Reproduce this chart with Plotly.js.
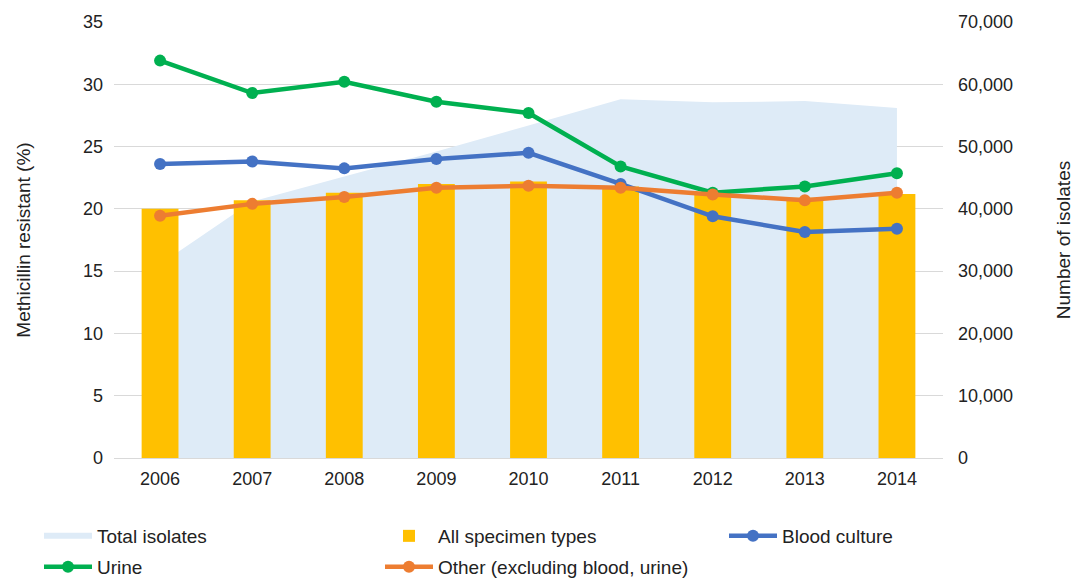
<!DOCTYPE html>
<html>
<head>
<meta charset="utf-8">
<script src="https://cdn.plot.ly/plotly-3.0.1.min.js"></script>
<style>html,body{margin:0;padding:0;background:#fff;}#chart{width:1075px;height:578px;}</style>
</head>
<body>
<div id="chart"></div>
<script>
const years = ['2006','2007','2008','2009','2010','2011','2012','2013','2014'];
const totalIsolates = [31100, 41200, 45200, 49200, 53400, 57600, 57100, 57300, 56200];
const allSpecimen = [20.0, 20.7, 21.3, 22.0, 22.2, 21.8, 21.3, 20.9, 21.2];
const bloodCulture = [23.6, 23.8, 23.25, 24.0, 24.5, 22.0, 19.4, 18.15, 18.4];
const urine = [31.9, 29.3, 30.2, 28.6, 27.7, 23.4, 21.3, 21.8, 22.85];
const other = [19.45, 20.4, 20.95, 21.7, 21.85, 21.7, 21.15, 20.7, 21.3];

const FONT = 'Liberation Sans, Arial, sans-serif';
const TXT = '#222222';

const traces = [
  {type:'scatter', name:'Total isolates', x:years, y:totalIsolates, yaxis:'y',
   mode:'none', fill:'tozeroy', fillcolor:'#DEEBF7', legend:'legend', hoverinfo:'skip'},
  {type:'bar', name:'All specimen types', x:years, y:allSpecimen, yaxis:'y2',
   marker:{color:'#FFC000'}, legend:'legend3'},
  {type:'scatter', name:'Blood culture', x:years, y:bloodCulture, yaxis:'y2',
   mode:'lines+markers', line:{color:'#4472C4', width:4.5}, marker:{color:'#4472C4', size:12}, legend:'legend5'},
  {type:'scatter', name:'Urine', x:years, y:urine, yaxis:'y2',
   mode:'lines+markers', line:{color:'#00B050', width:4.5}, marker:{color:'#00B050', size:12}, legend:'legend2'},
  {type:'scatter', name:'Other (excluding blood, urine)', x:years, y:other, yaxis:'y2',
   mode:'lines+markers', line:{color:'#ED7D31', width:4.5}, marker:{color:'#ED7D31', size:12}, legend:'legend4'}
];

const L = 114, R = 943, T = 22, B = 458;
const IW = 48;
function px2x(px){ return (px - L) / (R - L); }
function px2y(py){ return (B - py) / (B - T); }
function leg(textX, ypx){
  return {x:px2x(textX - IW - 10), y:px2y(ypx), xanchor:'left', yanchor:'middle', orientation:'v',
          itemwidth:IW, bgcolor:'rgba(0,0,0,0)', font:{family:FONT, size:19, color:TXT}};
}

const layout = {
  width:1075, height:578,
  margin:{l:L, r:1075-R, t:T, b:578-B, pad:0, autoexpand:false},
  paper_bgcolor:'#ffffff', plot_bgcolor:'#ffffff',
  font:{family:FONT, size:18, color:TXT},
  bargap:0.6,
  xaxis:{type:'category', range:[-0.5, 8.5], showline:true, linecolor:'#D9D9D9', linewidth:1,
         ticks:'', showgrid:false, zeroline:false, tickfont:{size:18, color:TXT}, ticklabelstandoff:4,
         fixedrange:true},
  yaxis:{side:'right', range:[0,70000], dtick:10000, tickformat:',', showgrid:true, gridcolor:'#D9D9D9',
         zeroline:false, ticks:'', tickfont:{size:18, color:TXT}, ticklabelstandoff:14,
         title:{text:'Number of isolates', font:{size:19, color:TXT}, standoff:44}},
  yaxis2:{side:'left', overlaying:'y', range:[0,35], dtick:5, showgrid:false, zeroline:false, ticks:'',
          tickfont:{size:18, color:TXT}, ticklabelstandoff:10,
          title:{text:'Methicillin resistant (%)', font:{size:19, color:TXT}, standoff:47}},
  legend: leg(97, 536),
  legend2: leg(97, 567),
  legend3: leg(438, 536),
  legend4: leg(438, 567),
  legend5: leg(782, 536),
  showlegend:true
};

Plotly.newPlot('chart', traces, layout, {displayModeBar:false, staticPlot:true});
</script>
</body>
</html>
